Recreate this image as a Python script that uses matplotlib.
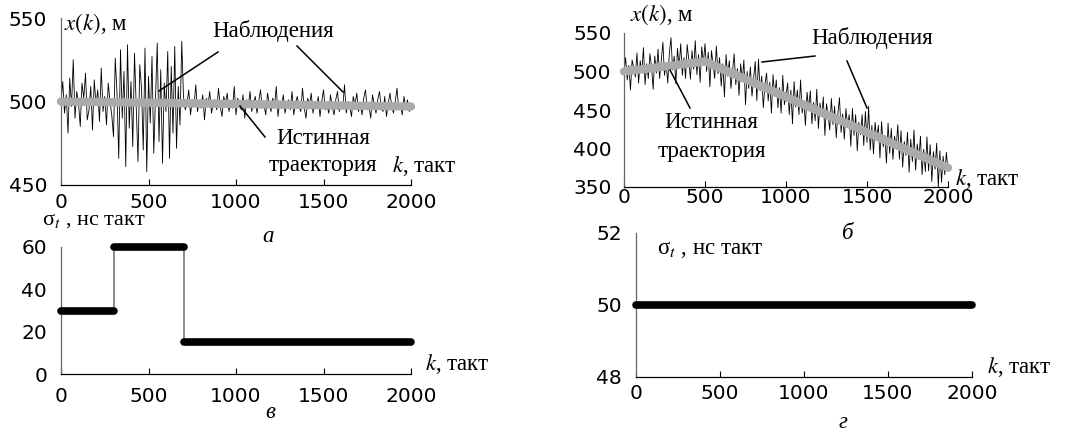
import numpy as np
import matplotlib.pyplot as plt

# ------------- данные -------------------
# а: наблюдения (шаг 10 тактов), истинная траектория
obs_a = [500, 512, 493, 504, 481, 514, 497, 525, 490, 506, 499, 485, 511, 502, 517, 489, 495, 509, 483, 513,
         498, 507, 488, 520, 494, 503, 486, 511, 500, 492,
         479, 526, 505, 466, 531, 490, 518, 461, 534, 484, 512, 473, 529, 497, 464, 522, 508, 471, 532, 458,
         515, 487, 527, 469, 503, 535, 476, 519, 463, 511, 494, 530, 466, 521, 481, 533, 472, 509, 486, 536,
         503, 495, 499, 507, 492, 501, 497, 510, 494, 500, 496, 504, 489, 502, 498, 506, 493, 499, 501, 495,
         508, 497, 491, 503, 499, 505, 494, 500, 496, 509, 492, 502, 498, 495, 504, 490, 501, 497, 506, 494,
         499, 503, 493, 500, 507, 496, 498, 492, 505, 499, 494, 502, 497, 509, 491, 500, 496, 504, 493, 498,
         501, 495, 506, 492, 499, 503, 497, 494, 508, 496, 490, 502, 498, 505, 493, 499, 496, 503, 491, 500,
         507, 495, 498, 493, 504, 497, 492, 501, 506, 494, 499, 496, 510, 493, 500, 497, 491, 503, 498, 505,
         494, 499, 492, 502, 507, 495, 497, 490, 504, 498, 493, 501, 506, 496, 494, 503, 491, 499, 505, 497,
         493, 500, 508, 495, 498, 492, 503, 496, 501, 494, 498]
true_k_a = [0, 2000]
true_x_a = [500, 497]

# б: наблюдения (шаг 10 тактов), истинная траектория
obs_b = [500, 518, 489, 508, 476, 515, 505, 493, 524, 485, 514, 499, 531, 483, 510, 491, 523, 506, 477, 520,
         498, 529, 491, 515, 538, 495, 511, 485, 524, 544, 502, 520, 484, 530, 506, 536, 495, 518, 491, 535,
         515, 490, 527, 503, 540, 496, 522, 486, 532, 511, 536, 500, 525, 480, 527, 509, 491, 533, 497, 518,
         481, 510, 467, 522, 494, 514, 478, 500, 523, 483, 504, 469, 510, 488, 515, 457, 500, 478, 506, 468,
         491, 513, 462, 516, 475, 494, 453, 483, 498, 462, 486, 446, 496, 468, 489, 453, 479, 446, 495, 457,
         469, 485, 444, 476, 432, 487, 454, 476, 444, 489, 446, 462, 430, 473, 451, 475, 432, 460, 436, 477,
         426, 459, 441, 467, 417, 458, 443, 424, 465, 431, 455, 414, 445, 466, 421, 445, 412, 452, 428, 444,
         403, 452, 417, 444, 397, 434, 418, 444, 404, 448, 408, 455, 398, 430, 393, 434, 411, 430, 388, 435,
         402, 417, 381, 433, 394, 426, 386, 416, 401, 431, 386, 423, 376, 409, 391, 421, 369, 412, 383, 424,
         372, 406, 386, 416, 366, 399, 370, 415, 371, 405, 357, 396, 373, 407, 350, 397, 356, 390, 366, 395,
         371]
true_k_b = [0, 500, 2000]
true_x_b = [500, 513, 375]

# в, г: СКО по тактам
sigma_k_v = [0, 300, 700, 2000]
sigma_v = [30, 60, 15]
sigma_k_g = [0, 2000]
sigma_g = [50]

W, H = 1085, 432
SERIF = 'Liberation Serif'
plt.rcParams['font.family'] = 'DejaVu Sans'
plt.rcParams['mathtext.fontset'] = 'stix'

fig = plt.figure(figsize=(W / 100, H / 100), dpi=100)


def ax_px(x0, x1, ytop, ybot):
    return fig.add_axes([x0 / W, 1 - ybot / H, (x1 - x0) / W, (ybot - ytop) / H])


def fp(x, y):
    return (x / W, 1 - y / H)


def txt(x, y, s, ha='left', size=16.5, style='normal'):
    fig.text(*fp(x, y), s, ha=ha, va='center', family=SERIF, fontsize=size, style=style)


def leader(x0, y0, x1, y1):
    fig.add_artist(plt.Line2D([x0 / W, x1 / W], [1 - y0 / H, 1 - y1 / H], color='black', lw=1.1))


def style_ax(ax, xpad, ypad):
    for s in ['top', 'right']:
        ax.spines[s].set_visible(False)
    ax.spines['left'].set_color('#666666')
    ax.spines['left'].set_linewidth(0.9)
    ax.spines['bottom'].set_linewidth(0.9)
    ax.tick_params(axis='x', direction='in', length=4, width=0.8, pad=xpad, labelsize=14.5)
    ax.tick_params(axis='y', length=0, pad=ypad, labelsize=14.5)
    ax.set_xlim(0, 2000)
    ax.set_xticks([0, 500, 1000, 1500, 2000])


# ------------- а -------------------
ax = ax_px(61, 411, 18, 185)
k_a = np.linspace(0, 2000, len(obs_a))
ax.plot(true_k_a, true_x_a, color='#aaaaaa', lw=6, solid_capstyle='round', clip_on=False, zorder=3)
ax.plot(k_a, obs_a, color='black', lw=0.6, zorder=2)
ax.set_ylim(450, 550)
ax.set_yticks([450, 500, 550])
style_ax(ax, 6, 10)

# ------------- б -------------------
ax = ax_px(624, 948, 33, 187)
k_b = np.linspace(0, 2000, len(obs_b))
ax.plot(true_k_b, true_x_b, color='#aaaaaa', lw=6, solid_capstyle='round', clip_on=False, zorder=3)
ax.plot(k_b, obs_b, color='black', lw=0.6, zorder=2)
ax.set_ylim(350, 550)
ax.set_yticks([350, 400, 450, 500, 550])
style_ax(ax, 1, 9)

# ------------- в -------------------
ax = ax_px(61, 411, 247, 374)
ax.step(sigma_k_v, sigma_v + [sigma_v[-1]], where='post', color='#777777', lw=1.2, zorder=2)
for i, s in enumerate(sigma_v):
    ax.plot([sigma_k_v[i], sigma_k_v[i + 1]], [s, s], color='black', lw=5.5,
            solid_capstyle='round', clip_on=False, zorder=3)
ax.set_ylim(0, 60)
ax.set_yticks([0, 20, 40, 60])
style_ax(ax, 9, 10)

# ------------- г -------------------
ax = ax_px(636, 972, 233, 377)
for i, s in enumerate(sigma_g):
    ax.plot([sigma_k_g[i], sigma_k_g[i + 1]], [s, s], color='black', lw=5.5,
            solid_capstyle='round', clip_on=False, zorder=3)
ax.set_ylim(48, 52)
ax.set_yticks([48, 50, 52])
style_ax(ax, 5, 10)

# ------------- подписи -------------------
txt(64, 24, r'$x(k)$, м')
txt(212, 31, 'Наблюдения')
leader(218, 52, 159, 91)
leader(297, 46, 343, 92)
txt(276, 138, 'Истинная')
txt(269, 166, 'траектория')
leader(240, 106, 265, 137)
txt(392, 166, r'$k$, такт')
txt(268, 236, 'а', ha='center', style='italic')

txt(630, 15, r'$x(k)$, м')
txt(811, 38, 'Наблюдения')
leader(815, 56, 762, 62)
leader(847, 61, 867, 108)
txt(664, 123, 'Истинная')
txt(658, 152, 'траектория')
leader(670, 70, 690, 108)
txt(955, 179, r'$k$, такт')
txt(848, 234, 'б', ha='center', style='italic')

txt(42, 221, 'σ$_t$ , нс такт', size=16)
txt(425, 364, r'$k$, такт')
txt(270, 412, 'в', ha='center', style='italic')

txt(657, 250, 'σ$_t$ , нс такт')
txt(987, 367, r'$k$, такт')
txt(843, 423, 'г', ha='center', style='italic')

plt.savefig('out.png', dpi=100)
